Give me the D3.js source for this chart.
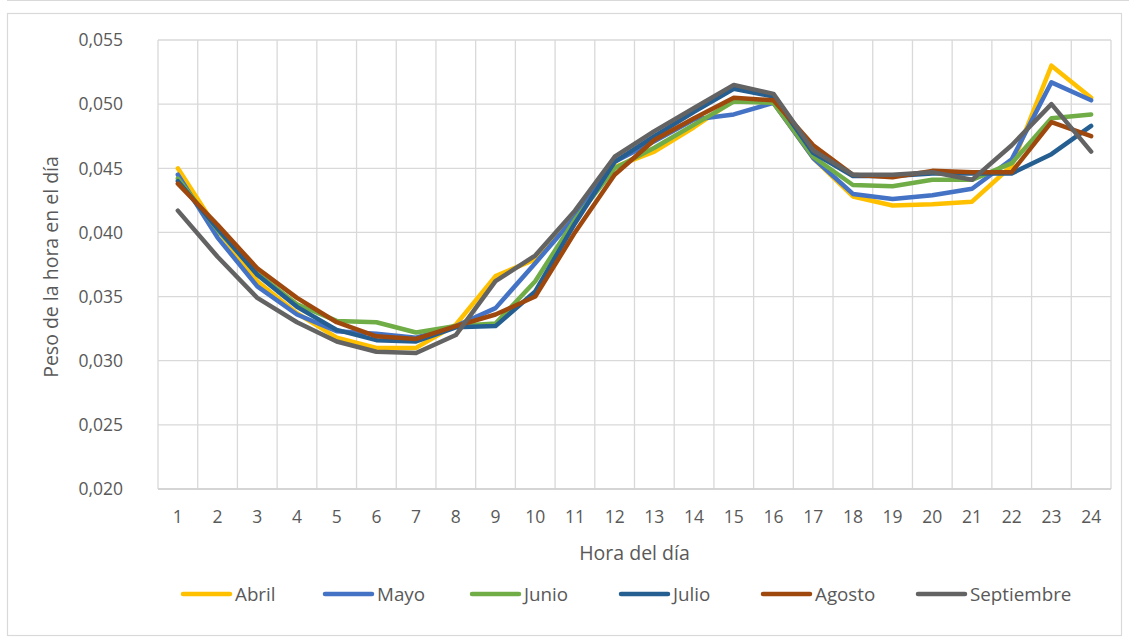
<!DOCTYPE html>
<html><head><meta charset="utf-8">
<script src="https://cdn.jsdelivr.net/npm/d3@7"></script>
<style>
html,body{margin:0;padding:0;background:#fff;}
text{font-family:"Open Sans",sans-serif;fill:#595959;}
</style></head>
<body><svg id="c" width="1129" height="640"></svg>
<script>
const hours = [1,2,3,4,5,6,7,8,9,10,11,12,13,14,15,16,17,18,19,20,21,22,23,24];
const yTicks = [0.020,0.025,0.030,0.035,0.040,0.045,0.050,0.055];
const seriesNames = ["Abril","Mayo","Junio","Julio","Agosto","Septiembre"];
const seriesColors = ["#FFC000","#4472C4","#70AD47","#255E91","#9E480E","#636363"];
const abril = [0.0450,0.0402,0.0362,0.0337,0.0318,0.0310,0.0310,0.0328,0.0366,0.0379,0.0413,0.0451,0.0463,0.0482,0.0503,0.0501,0.0458,0.0428,0.0421,0.0422,0.0424,0.0452,0.0530,0.0505];
const mayo = [0.0445,0.0396,0.0358,0.0336,0.0323,0.0321,0.0318,0.0327,0.0341,0.0376,0.0412,0.0455,0.0471,0.0488,0.0492,0.0501,0.0458,0.0430,0.0426,0.0429,0.0434,0.0457,0.0517,0.0503];
const junio = [0.0442,0.0402,0.0368,0.0344,0.0331,0.0330,0.0322,0.0327,0.0329,0.0362,0.0410,0.0450,0.0466,0.0484,0.0502,0.0501,0.0459,0.0437,0.0436,0.0441,0.0441,0.0454,0.0489,0.0492];
const julio = [0.0440,0.0403,0.0367,0.0342,0.0324,0.0316,0.0315,0.0326,0.0327,0.0354,0.0407,0.0455,0.0475,0.0494,0.0512,0.0506,0.0462,0.0444,0.0444,0.0446,0.0446,0.0446,0.0461,0.0483];
const agosto = [0.0438,0.0406,0.0372,0.0349,0.0330,0.0319,0.0317,0.0327,0.0336,0.0350,0.0400,0.0445,0.0472,0.0489,0.0505,0.0503,0.0468,0.0445,0.0443,0.0448,0.0447,0.0447,0.0486,0.0475];
const septiembre = [0.0417,0.0381,0.0349,0.0330,0.0315,0.0307,0.0306,0.0320,0.0362,0.0382,0.0417,0.0459,0.0479,0.0497,0.0515,0.0508,0.0464,0.0445,0.0445,0.0447,0.0441,0.0468,0.0500,0.0463];
const seriesValues = [abril,mayo,junio,julio,agosto,septiembre];

const svg = d3.select("#c");
const L=158, R=1111, T=40, B=489;
const x = d3.scaleBand().domain(hours).range([L,R]).padding(0);
const y = d3.scaleLinear().domain([0.020,0.055]).range([B,T]);
const fmt = v => d3.format(".3f")(v).replace(".",",");

// outer frame
svg.append("line").attr("x1",7).attr("x2",1129).attr("y1",0.5).attr("y2",0.5).attr("stroke","#d9d9d9");
svg.append("rect").attr("x",7.5).attr("y",13.5).attr("width",1114).attr("height",622)
  .attr("fill","none").attr("stroke","#d9d9d9").attr("stroke-width",1.2);

// horizontal gridlines
svg.append("g").selectAll("line").data(yTicks).join("line")
  .attr("x1",L).attr("x2",R).attr("y1",d=>y(d)).attr("y2",d=>y(d))
  .attr("stroke","#d9d9d9").attr("stroke-width",1.3);
// vertical gridlines at band boundaries
const bounds = hours.map(h=>x(h)).concat([x(hours[hours.length-1])+x.bandwidth()]);
svg.append("g").selectAll("line").data(bounds).join("line")
  .attr("x1",d=>d).attr("x2",d=>d).attr("y1",T).attr("y2",B)
  .attr("stroke","#d9d9d9").attr("stroke-width",1.3);
// bottom axis line
svg.append("line").attr("x1",L).attr("x2",R).attr("y1",B).attr("y2",B).attr("stroke","#d0d0d0").attr("stroke-width",1.5);

// y tick labels
svg.append("g").selectAll("text").data(yTicks).join("text")
  .attr("x",123).attr("y",d=>y(d)).attr("dy","0.36em").attr("text-anchor","end")
  .style("font-size","17.5px").text(fmt);
// x tick labels
svg.append("g").selectAll("text").data(hours).join("text")
  .attr("x",d=>x(d)+x.bandwidth()/2).attr("y",523).attr("text-anchor","middle")
  .style("font-size","17.5px").text(d=>d);

// titles
svg.append("text").attr("x",(L+R)/2).attr("y",560).attr("text-anchor","middle")
  .style("font-size","19.5px").text("Hora del día");
svg.append("text").attr("transform","translate(58,267) rotate(-90)").attr("text-anchor","middle")
  .style("font-size","19.5px").text("Peso de la hora en el día");

// lines
const line = d3.line().x((d,i)=>x(hours[i])+x.bandwidth()/2).y(d=>y(d));
svg.append("g").selectAll("path").data(seriesValues).join("path")
  .attr("d",line).attr("fill","none")
  .attr("stroke",(d,i)=>seriesColors[i]).attr("stroke-width",4.5)
  .attr("stroke-linejoin","round").attr("stroke-linecap","round");

// legend
const legX = [183,325,472,621,763,918];
const lg = svg.append("g").selectAll("g").data(seriesNames).join("g")
  .attr("transform",(d,i)=>`translate(${legX[i]},594)`);
lg.append("line").attr("x1",0).attr("x2",47).attr("y1",0).attr("y2",0)
  .attr("stroke",(d,i)=>seriesColors[i]).attr("stroke-width",4.5).attr("stroke-linecap","round");
lg.append("text").attr("x",52).attr("y",0).attr("dy","0.36em")
  .style("font-size","18.8px").text(d=>d);
</script></body></html>
